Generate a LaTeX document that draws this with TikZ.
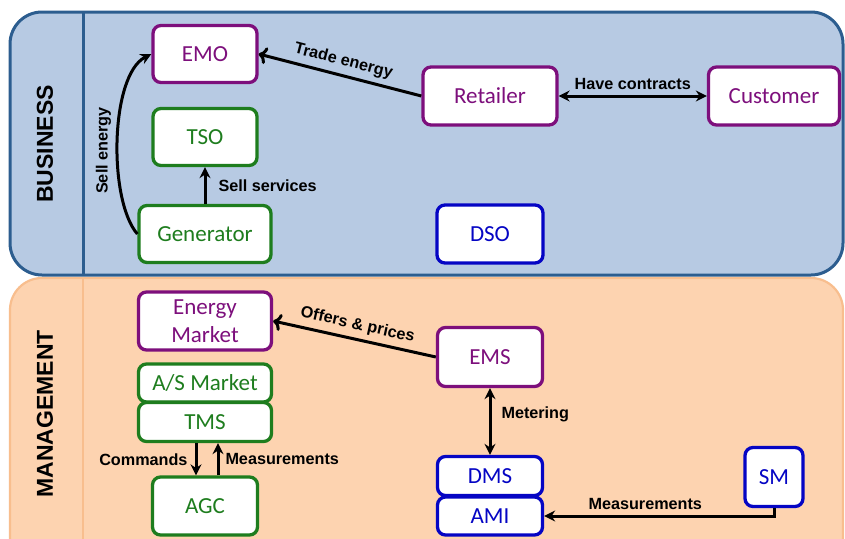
\documentclass[tikz,border=0pt]{standalone}
\usepackage{fontspec}
\setmainfont{Carlito}
\newfontfamily\lblfont{Liberation Sans}
\usetikzlibrary{arrows.meta}

\definecolor{bizfill}{HTML}{B7CAE3}
\definecolor{bizline}{HTML}{2C5D8F}
\definecolor{mgtfill}{HTML}{FDD3B0}
\definecolor{mgtline}{HTML}{F8BE8E}
\definecolor{cpurple}{HTML}{7D0F7C}
\definecolor{cgreen}{HTML}{1E7D1E}
\definecolor{cblue}{HTML}{0505C4}

\tikzset{
  ent/.style={draw, fill=white, line width=3.3pt, rounded corners=8pt,
    inner sep=0pt, align=center, font=\fontsize{23}{28}\selectfont},
  entp/.style={ent, draw=cpurple, text=cpurple},
  entg/.style={ent, draw=cgreen, text=cgreen},
  entb/.style={ent, draw=cblue, text=cblue},
  link/.style={line width=3pt, -{Stealth[length=11pt,width=11pt]}},
  link2/.style={line width=3pt, {Stealth[length=11pt,width=11pt]}-{Stealth[length=11pt,width=11pt]}},
  lbl/.style={font=\lblfont\bfseries\fontsize{16.2}{19}\selectfont, text=black, inner sep=2pt},
  layer/.style={font=\lblfont\bfseries\fontsize{23}{26}\selectfont, rotate=90}
}

\begin{document}
\begin{tikzpicture}[x=1pt, y=-1pt]
\path[use as bounding box] (0,0) rectangle (845,538);
\fill[white] (0,0) rectangle (845,538);

% layer panels
\begin{scope}
  \clip (0,0) rectangle (845,538);
  \draw[fill=mgtfill, draw=mgtline, line width=2.2pt, rounded corners=32pt]
    (10,278) rectangle (843,580);
  \draw[mgtline, line width=2.2pt] (83,279) -- (83,540);
\end{scope}
\draw[fill=bizfill, draw=bizline, line width=3pt, rounded corners=32pt]
  (10,12) rectangle (843,275);
\draw[bizline, line width=3pt] (83,12) -- (83,275);

\node[layer] (biz) at (45,144) {BUSINESS};
\node[layer] (mgt) at (45,414) {MANAGEMENT};

% business layer entities
\node[entp, minimum width=104pt, minimum height=57pt] (emo) at (205,54) {EMO};
\node[entg, minimum width=104pt, minimum height=57pt] (tso) at (205,137) {TSO};
\node[entg, minimum width=132pt, minimum height=57pt] (gen) at (205,234) {Generator};
\node[entp, minimum width=134pt, minimum height=58pt] (ret) at (490,96) {Retailer};
\node[entp, minimum width=131pt, minimum height=58pt] (cus) at (774,96) {Customer};
\node[entb, minimum width=106pt, minimum height=58pt] (dso) at (490,234) {DSO};

% management layer entities
\node[entp, minimum width=133pt, minimum height=58pt] (em) at (205,321) {Energy\\Market};
\node[entg, minimum width=133pt, minimum height=38pt] (asm) at (205,383) {A/S Market};
\node[entg, minimum width=133pt, minimum height=39pt] (tms) at (205,422) {TMS};
\node[entg, minimum width=105pt, minimum height=58pt] (agc) at (205,506) {AGC};
\node[entp, minimum width=105pt, minimum height=59pt] (ems) at (490,357) {EMS};
\node[entb, minimum width=105pt, minimum height=39pt] (dms) at (490,476) {DMS};
\node[entb, minimum width=105pt, minimum height=38pt] (ami) at (490,516) {AMI};
\node[entb, minimum width=58pt, minimum height=59pt] (sm) at (774,477) {SM};

% business relations
\draw[link] (gen.west) .. controls (108,200) and (110,75) .. (emo.west)
  node[lbl, rotate=90, pos=0.45, above=3pt] {Sell energy};
\draw[link] (gen.north) -- node[lbl, right=10pt] {Sell services} (tso.south);
\draw[link, <-] (emo.east) -- node[lbl, sloped, above=3pt] {Trade energy} (ret.west);
\draw[link2] (ret.east) -- node[lbl, above=3pt] {Have contracts} (cus.west);

% management relations
\draw[link, <-] (em.east) -- node[lbl, sloped, above=3pt] {Offers \& prices} (ems.west);
\draw[link2] (ems.south) -- node[lbl, right=8pt, pos=0.4] {Metering} (dms.north);
\draw[link] ([xshift=-9pt]tms.south) -- node[lbl, left=5pt] {Commands} ([xshift=-9pt]agc.north);
\draw[link] ([xshift=13pt]agc.north) -- node[lbl, right=4pt] {Measurements} ([xshift=13pt]tms.south);
\draw[link] (sm.south) |- node[lbl, pos=0.78, above=3pt] {Measurements} (ami.east);
\end{tikzpicture}
\end{document}
